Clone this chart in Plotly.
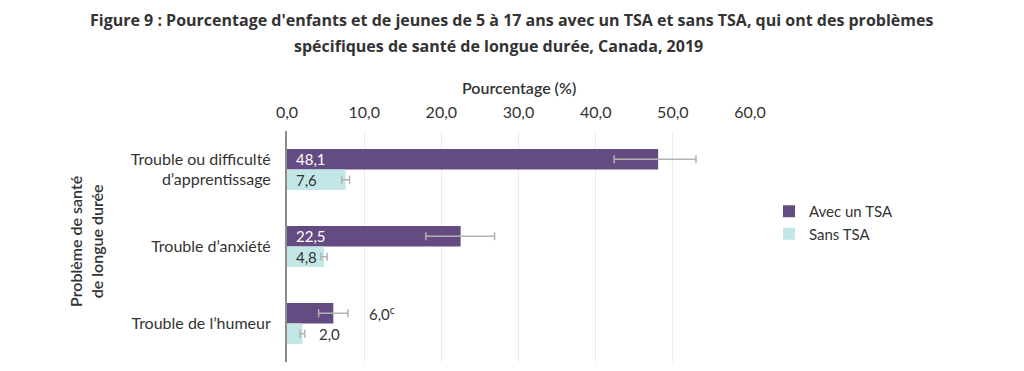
import plotly.graph_objects as go

# ---- data ----
categories = ["Trouble ou difficulté<br>d’apprentissage", "Trouble d’anxiété", "Trouble de l’humeur"]
series_names = ["Avec un TSA", "Sans TSA"]
avec = [48.1, 22.5, 6.0]
sans = [7.6, 4.8, 2.0]
avec_err_plus = [4.9, 4.4, 1.9]
avec_err_minus = [5.7, 4.5, 1.9]
sans_err_plus = [0.5, 0.4, 0.3]
sans_err_minus = [0.5, 0.4, 0.3]
avec_labels = ["48,1", "22,5", "6,0<sup>c</sup>"]
sans_labels = ["7,6", "4,8", "2,0"]
avec_label_inside = [True, True, False]
sans_label_inside = [True, True, False]
tick_vals = [0, 10, 20, 30, 40, 50, 60]

# ---- layout geometry (page pixel coords; page body has 8px margin) ----
OFF = 8
W, H = 1024, 371
L, R, T, B = 287, 750, 131, 362  # plot area in page coords
PW, PH = R - L, B - T

def px(x):
    return (x - L) / PW

def py(y):
    return 1 - (y - T) / PH

PURPLE = "#644c82"
CYAN = "#c2e7e6"
TXT = "#333333"
FONT = "Lato"

fig = go.Figure()
fig.add_trace(go.Bar(
    y=categories, x=avec, name=series_names[0], orientation="h",
    marker=dict(color=PURPLE, line=dict(width=0)),
    error_x=dict(type="data", array=avec_err_plus, arrayminus=avec_err_minus,
                 color="#b3b3b3", thickness=1.5, width=4),
    hoverinfo="x+y",
))
fig.add_trace(go.Bar(
    y=categories, x=sans, name=series_names[1], orientation="h",
    marker=dict(color=CYAN, line=dict(width=0)),
    error_x=dict(type="data", array=sans_err_plus, arrayminus=sans_err_minus,
                 color="#b3b3b3", thickness=1.5, width=4),
    hoverinfo="x+y",
))

annotations = []
# value labels
for i, cat in enumerate(categories):
    for vals, eplus, labels, inside, shift, col, oshift in (
        (avec, avec_err_plus, avec_labels, avec_label_inside, 10.3, "white", 19),
        (sans, sans_err_plus, sans_labels, sans_label_inside, -10.3, TXT, 12),
    ):
        v = vals[i]
        if inside[i]:
            annotations.append(dict(x=0, y=i, xref="x", yref="y", text=labels[i],
                                    showarrow=False, xanchor="left", xshift=7, yshift=shift,
                                    font=dict(family=FONT, size=15, color=col)))
        else:
            annotations.append(dict(x=v + eplus[i], y=i, xref="x", yref="y", text=labels[i],
                                    showarrow=False, xanchor="left", xshift=oshift,
                                    yshift=shift, font=dict(family=FONT, size=15, color=TXT)))

# titles
annotations.append(dict(x=px(511), y=py(20), xref="paper", yref="paper", showarrow=False,
                        text="Figure 9 : Pourcentage d'enfants et de jeunes de 5 à 17 ans avec un TSA et sans TSA, qui ont des problèmes",
                        font=dict(family="Open Sans", size=16, color="#333333", weight="bold"),
                        xanchor="center", yanchor="middle"))
annotations.append(dict(x=px(498), y=py(46), xref="paper", yref="paper", showarrow=False,
                        text="spécifiques de santé de longue durée, Canada, 2019",
                        font=dict(family="Open Sans", size=16, color="#333333", weight="bold"),
                        xanchor="center", yanchor="middle"))
annotations.append(dict(x=px(519), y=py(87), xref="paper", yref="paper", showarrow=False,
                        text="Pourcentage (%)",
                        font=dict(family=FONT, size=16, color=TXT, weight=600),
                        xanchor="center", yanchor="middle"))
annotations.append(dict(x=px(86), y=py(242), xref="paper", yref="paper", showarrow=False,
                        text="Problème de santé<br>de longue durée", textangle=-90,
                        font=dict(family=FONT, size=16, color=TXT, weight=600),
                        xanchor="center", yanchor="middle"))

fig.update_layout(
    width=W, height=H,
    margin=dict(l=L - OFF, r=W - (R - OFF), t=T - OFF, b=H - (B - OFF), autoexpand=False),
    paper_bgcolor="white", plot_bgcolor="white",
    barmode="group", bargap=0.47, bargroupgap=0,
    separators=", ",
    font=dict(family=FONT, size=16, color=TXT),
    showlegend=True,
    legend=dict(x=px(769), y=py(195), xanchor="left", yanchor="top",
                xref="paper", yref="paper", traceorder="normal",
                font=dict(family=FONT, size=15, color=TXT),
                itemwidth=30, tracegroupgap=0, bgcolor="rgba(0,0,0,0)"),
    xaxis=dict(range=[0, 60], side="top", tickvals=tick_vals, tickformat=".1f",
               showgrid=True, gridcolor="#ececec", gridwidth=1, zeroline=False,
               showline=False, ticks="", ticklabelstandoff=9,
               tickfont=dict(family=FONT, size=16, color=TXT),
               fixedrange=True),
    yaxis=dict(autorange="reversed", showline=True, linecolor="#8c8c8c", linewidth=2,
               ticks="", ticklabelstandoff=11, tickfont=dict(family=FONT, size=16, color=TXT),
               fixedrange=True),
    annotations=annotations,
)

fig.write_html("out.html")
